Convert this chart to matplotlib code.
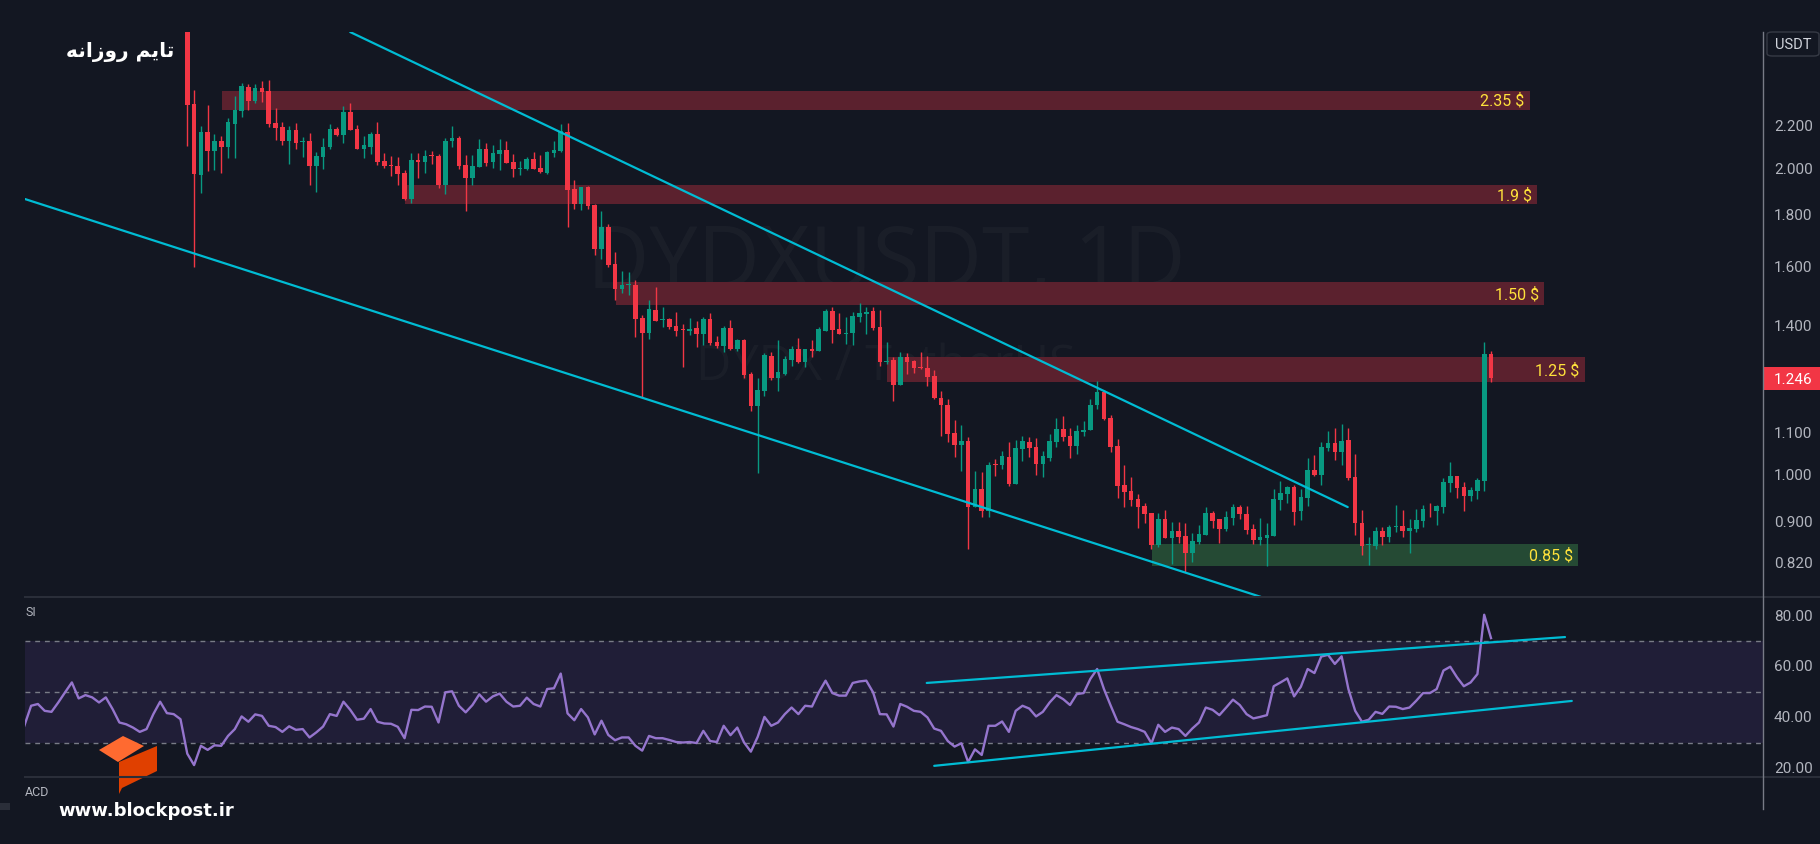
import numpy as np
import matplotlib.pyplot as plt
from matplotlib.lines import Line2D
from matplotlib.patches import Polygon, Rectangle, FancyBboxPatch

# ---- DYDXUSDT daily candles (bar 0 = first visible candle) ----
opens = [2.80, 2.315, 1.973, 2.173, 2.083, 2.129, 2.102, 2.214, 2.280, 2.406,
         2.332, 2.401, 2.384, 2.218, 2.198, 2.130, 2.183, 2.125, 2.129, 2.013,
         2.055, 2.102, 2.188, 2.160, 2.273, 2.188, 2.093, 2.102, 2.163, 2.035,
         2.018, 2.012, 1.980, 1.867, 2.040, 2.032, 2.063, 2.058, 1.929, 2.129,
         2.144, 2.016, 1.958, 2.007, 2.091, 2.030, 2.068, 2.087, 2.030, 2.000,
         1.998, 2.044, 2.003, 1.980, 2.073, 2.082, 2.173, 1.910, 1.845, 1.919,
         1.841, 1.668, 1.753, 1.612, 1.523, 1.536, 1.537, 1.427, 1.379, 1.453,
         1.421, 1.423, 1.401, 1.391, 1.385, 1.395, 1.376, 1.423, 1.351, 1.339,
         1.395, 1.330, 1.357, 1.257, 1.169, 1.209, 1.309, 1.246, 1.257, 1.297,
         1.330, 1.291, 1.330, 1.324, 1.385, 1.449, 1.391, 1.377, 1.379, 1.430,
         1.440, 1.449, 1.398, 1.292, 1.297, 1.226, 1.306, 1.294, 1.275, 1.274,
         1.251, 1.190, 1.172, 1.100, 1.070, 1.080, 0.930, 0.969, 0.922, 1.025,
         1.023, 1.042, 0.980, 1.061, 1.078, 1.066, 1.025, 1.039, 1.078, 1.110,
         1.092, 1.068, 1.102, 1.107, 1.172, 1.206, 1.138, 1.068, 0.978, 0.964,
         0.947, 0.932, 0.918, 0.853, 0.905, 0.867, 0.881, 0.871, 0.838, 0.859,
         0.873, 0.918, 0.905, 0.885, 0.907, 0.930, 0.916, 0.885, 0.863, 0.867,
         0.871, 0.945, 0.958, 0.973, 0.922, 0.949, 1.011, 1.000, 1.063, 1.075,
         1.054, 1.082, 0.996, 0.898, 0.853, 0.852, 0.881, 0.869, 0.890, 0.891,
         0.881, 0.885, 0.901, 0.926, 0.922, 0.930, 0.982, 0.998, 0.973, 0.953,
         0.964, 0.987, 1.315]
highs = [2.95, 2.390, 2.203, 2.310, 2.162, 2.153, 2.243, 2.357, 2.428, 2.421,
         2.423, 2.440, 2.445, 2.294, 2.223, 2.203, 2.218, 2.148, 2.168, 2.077,
         2.144, 2.213, 2.199, 2.305, 2.320, 2.208, 2.153, 2.173, 2.223, 2.073,
         2.058, 2.054, 1.994, 2.073, 2.073, 2.087, 2.082, 2.068, 2.144, 2.203,
         2.153, 2.063, 2.063, 2.139, 2.120, 2.110, 2.139, 2.129, 2.068, 2.035,
         2.054, 2.077, 2.063, 2.082, 2.129, 2.213, 2.218, 1.950, 1.919, 1.925,
         1.845, 1.817, 1.765, 1.657, 1.587, 1.583, 1.555, 1.436, 1.486, 1.530,
         1.463, 1.426, 1.446, 1.408, 1.427, 1.417, 1.430, 1.443, 1.370, 1.401,
         1.420, 1.360, 1.360, 1.263, 1.246, 1.318, 1.321, 1.357, 1.309, 1.339,
         1.363, 1.330, 1.357, 1.398, 1.456, 1.463, 1.443, 1.430, 1.446, 1.476,
         1.463, 1.463, 1.453, 1.351, 1.306, 1.321, 1.318, 1.297, 1.321, 1.309,
         1.268, 1.209, 1.188, 1.132, 1.120, 1.090, 1.009, 1.007, 1.030, 1.037,
         1.056, 1.078, 1.082, 1.092, 1.090, 1.087, 1.056, 1.097, 1.138, 1.143,
         1.112, 1.120, 1.130, 1.188, 1.237, 1.212, 1.145, 1.085, 1.023, 0.996,
         0.958, 0.939, 0.918, 0.918, 0.924, 0.899, 0.899, 0.897, 0.877, 0.893,
         0.930, 0.922, 0.905, 0.922, 0.936, 0.934, 0.932, 0.895, 0.907, 0.897,
         0.969, 0.987, 0.975, 0.978, 0.969, 1.039, 1.046, 1.078, 1.105, 1.112,
         1.122, 1.112, 1.049, 0.924, 0.869, 0.889, 0.889, 0.893, 0.934, 0.924,
         0.905, 0.926, 0.934, 0.939, 0.934, 0.993, 1.030, 0.998, 0.984, 0.973,
         0.993, 1.351, 1.324]
lows = [2.107, 1.602, 1.894, 1.991, 1.995, 1.982, 2.050, 2.050, 2.250, 2.285,
        2.321, 2.327, 2.199, 2.135, 2.111, 2.022, 2.093, 2.055, 1.929, 1.898,
        2.000, 2.093, 2.155, 2.121, 2.184, 2.093, 2.050, 2.065, 2.018, 2.004,
        1.968, 1.929, 1.864, 1.851, 1.960, 1.982, 2.022, 1.916, 1.890, 2.101,
        1.998, 1.817, 1.928, 2.007, 2.012, 2.003, 1.994, 2.026, 1.963, 1.972,
        1.994, 1.998, 1.980, 1.976, 2.054, 2.077, 1.753, 1.825, 1.821, 1.825,
        1.645, 1.630, 1.601, 1.486, 1.510, 1.503, 1.366, 1.193, 1.360, 1.417,
        1.398, 1.391, 1.370, 1.277, 1.373, 1.336, 1.342, 1.342, 1.333, 1.321,
        1.327, 1.324, 1.246, 1.156, 1.005, 1.196, 1.240, 1.209, 1.254, 1.280,
        1.288, 1.277, 1.306, 1.324, 1.385, 1.348, 1.376, 1.345, 1.342, 1.414,
        1.376, 1.388, 1.280, 1.285, 1.182, 1.226, 1.257, 1.260, 1.271, 1.223,
        1.188, 1.092, 1.078, 1.042, 1.009, 0.845, 0.930, 0.909, 0.909, 0.998,
        1.014, 0.975, 0.980, 1.032, 1.042, 1.000, 0.996, 1.032, 1.066, 1.080,
        1.039, 1.049, 1.092, 1.107, 1.161, 1.132, 1.054, 0.949, 0.930, 0.932,
        0.887, 0.897, 0.846, 0.850, 0.867, 0.818, 0.857, 0.803, 0.821, 0.855,
        0.873, 0.887, 0.857, 0.881, 0.893, 0.905, 0.875, 0.855, 0.853, 0.814,
        0.871, 0.924, 0.939, 0.893, 0.903, 0.932, 0.998, 0.978, 1.056, 1.035,
        1.023, 0.989, 0.873, 0.835, 0.816, 0.846, 0.853, 0.859, 0.879, 0.869,
        0.838, 0.879, 0.889, 0.909, 0.893, 0.918, 0.962, 0.949, 0.922, 0.943,
        0.947, 0.964, 1.234]
closes = [2.311, 1.976, 2.173, 2.083, 2.129, 2.102, 2.223, 2.284, 2.412, 2.332,
          2.401, 2.380, 2.214, 2.194, 2.130, 2.183, 2.121, 2.129, 2.013, 2.058,
          2.101, 2.188, 2.160, 2.273, 2.184, 2.093, 2.108, 2.163, 2.032, 2.013,
          2.013, 1.977, 1.867, 2.040, 2.032, 2.058, 2.060, 1.929, 2.129, 2.144,
          2.012, 1.958, 2.012, 2.091, 2.026, 2.073, 2.087, 2.026, 1.998, 2.003,
          2.044, 1.998, 1.985, 2.077, 2.087, 2.178, 1.906, 1.845, 1.919, 1.837,
          1.668, 1.753, 1.608, 1.523, 1.537, 1.539, 1.423, 1.379, 1.456, 1.417,
          1.423, 1.398, 1.385, 1.389, 1.391, 1.376, 1.423, 1.348, 1.339, 1.395,
          1.330, 1.357, 1.254, 1.169, 1.212, 1.312, 1.246, 1.263, 1.300, 1.330,
          1.291, 1.330, 1.324, 1.391, 1.449, 1.388, 1.376, 1.380, 1.433, 1.443,
          1.446, 1.395, 1.291, 1.294, 1.226, 1.306, 1.291, 1.274, 1.273, 1.248,
          1.190, 1.172, 1.097, 1.070, 1.080, 0.930, 0.969, 0.922, 1.023, 1.024,
          1.044, 0.980, 1.063, 1.080, 1.063, 1.025, 1.044, 1.080, 1.110, 1.090,
          1.068, 1.105, 1.107, 1.172, 1.206, 1.135, 1.066, 0.975, 0.962, 0.945,
          0.930, 0.916, 0.853, 0.905, 0.867, 0.881, 0.869, 0.838, 0.861, 0.875,
          0.918, 0.901, 0.885, 0.909, 0.930, 0.916, 0.883, 0.863, 0.869, 0.873,
          0.947, 0.960, 0.973, 0.920, 0.951, 1.011, 1.000, 1.066, 1.075, 1.054,
          1.080, 0.993, 0.897, 0.852, 0.854, 0.881, 0.869, 0.889, 0.891, 0.881,
          0.887, 0.903, 0.926, 0.925, 0.932, 0.984, 0.998, 0.971, 0.953, 0.967,
          0.989, 1.315, 1.246]

# RSI(14), first value sits at bar -24
rsi_first_bar = -24
rsi_values = [36.6, 44.5, 45.2, 42.5, 42.1, 45.8, 49.8, 53.7, 47.4, 48.7,
              47.8, 45.8, 47.8, 43.2, 37.9, 37.2, 35.9, 34.2, 35.3, 41.2,
              46.1, 41.6, 41.2, 39.2, 25.6, 21.1, 28.7, 27.1, 28.9, 28.7,
              32.6, 35.3, 40.3, 38.2, 41.1, 40.5, 36.6, 36.1, 34.2, 36.4,
              35.0, 35.3, 32.0, 34.0, 36.3, 41.2, 40.5, 46.1, 42.9, 39.0,
              39.4, 43.2, 38.2, 37.5, 37.4, 36.2, 31.7, 42.9, 42.8, 44.2,
              44.1, 37.9, 49.8, 50.2, 44.5, 41.9, 44.8, 49.0, 46.1, 48.2,
              49.3, 46.1, 44.2, 44.5, 47.7, 45.2, 44.2, 51.1, 51.4, 57.2,
              41.5, 38.8, 43.2, 39.9, 33.2, 38.6, 33.0, 30.9, 32.0, 32.0,
              28.7, 26.8, 32.6, 31.7, 31.7, 31.0, 30.2, 30.0, 30.2, 29.8,
              34.6, 30.6, 30.2, 36.6, 32.9, 35.9, 30.0, 26.4, 32.2, 40.1,
              36.6, 37.9, 41.2, 43.8, 41.2, 44.5, 44.2, 49.8, 54.4, 49.5,
              48.5, 48.5, 53.5, 54.1, 54.4, 49.8, 41.2, 41.1, 36.3, 45.2,
              44.1, 42.5, 42.1, 39.9, 35.5, 34.6, 30.6, 28.4, 29.7, 22.3,
              27.3, 25.1, 36.6, 36.6, 38.3, 34.2, 42.5, 44.5, 43.4, 40.3,
              42.1, 45.8, 48.7, 47.1, 44.8, 49.1, 49.5, 55.1, 59.0, 51.1,
              44.5, 38.2, 37.2, 36.1, 35.3, 34.2, 29.7, 37.0, 34.2, 35.9,
              35.3, 32.6, 35.5, 37.9, 43.8, 42.9, 40.8, 43.8, 46.9, 44.8,
              41.2, 39.5, 40.1, 40.8, 52.2, 53.7, 55.3, 48.2, 52.0, 59.0,
              57.4, 63.9, 64.6, 61.0, 64.0, 51.1, 42.5, 38.2, 39.0, 42.1,
              41.3, 44.2, 44.1, 43.2, 43.8, 46.5, 49.5, 49.5, 51.1, 58.4,
              59.9, 55.7, 52.2, 53.7, 57.0, 80.4, 71.2]

# support / resistance zones
zone_labels = ['2.35 $', '1.9 $', '1.50 $', '1.25 $', '0.85 $']
zone_low = [2.285, 1.845, 1.469, 1.234, 0.814]
zone_high = [2.386, 1.928, 1.548, 1.306, 0.855]
zone_start = [5.1, 32.1, 63.1, 103.0, 142.1]
zone_end = [197.7, 198.8, 199.8, 205.8, 204.8]

# drawn trend lines: (bar, value) end points
channel_top = ([24.0, 170.9], [2.724, 0.930])
channel_bottom = ([-23.9, 158.1], [1.867, 0.759])
rsi_line_top = ([108.9, 202.9], [53.5, 71.6])
rsi_line_bottom = ([110.0, 203.9], [20.8, 46.4])

price_ticks = [2.2, 2.0, 1.8, 1.6, 1.4, 1.1, 1.0, 0.9, 0.82]
rsi_ticks = [80, 60, 40, 20]
last_price = 1.246

# ---- style ----
W, H, DPI = 1820, 845, 100
BG = '#131722'
UP = '#089981'
DOWN = '#F23645'
CYAN = '#00BCD4'
AXIS_TXT = '#B2B5BE'
GRID = '#2A2E39'
ZONE_RED = '#5B212E'
ZONE_GREEN = '#254A34'
LABEL_YELLOW = '#FFE23B'

fig = plt.figure(figsize=(W / DPI, H / DPI), dpi=DPI, facecolor=BG)


def fx(x):
    return x / W


def fy(y):
    return 1 - y / H


def pane(top, bottom):
    a = fig.add_axes([fx(25), fy(bottom), fx(1763) - fx(25), fy(top) - fy(bottom)])
    a.set_facecolor(BG)
    for s in a.spines.values():
        s.set_visible(False)
    return a


x_lim = (-23.9, 232.06)
label_x = (1774 - 25) / (1763 - 25)

# ---- price pane ----
ax = pane(33, 598)
ax.set_yscale('log')
ax.set_ylim(0.7588, 2.7244)
ax.set_xlim(*x_lim)
ax.tick_params(which='both', left=False, bottom=False, right=False,
               labelleft=False, labelbottom=False)

ax.text(fx(886), fy(266), 'DYDXUSDT, 1D', transform=fig.transFigure, ha='center',
        va='center', fontsize=62, family='Open Sans', color=(1, 1, 1, 0.03), zorder=0.5)
ax.text(fx(886), fy(367), 'DYDX / TetherUS', transform=fig.transFigure, ha='center',
        va='center', fontsize=35, family='Open Sans', color=(1, 1, 1, 0.03), zorder=0.5)

for lab, lo, hi, s, e in zip(zone_labels, zone_low, zone_high, zone_start, zone_end):
    col = ZONE_GREEN if lab.startswith('0.85') else ZONE_RED
    ax.fill_between([s, e], [lo, lo], [hi, hi], color=col, lw=0, zorder=1)
    ax.annotate(lab, xy=(e, np.sqrt(lo * hi)), xytext=(-5, 0), textcoords='offset pixels',
                ha='right', va='center', color=LABEL_YELLOW, fontsize=11.5,
                family='Roboto', zorder=6)

o = np.array(opens)
h = np.array(highs)
l = np.array(lows)
c = np.array(closes)
bars = np.arange(len(o))
cols = np.where(c >= o, UP, DOWN)
ax.vlines(bars, l, h, colors=cols, lw=1.0, zorder=3)
bottom = np.minimum(o, c)
height = np.maximum(np.abs(c - o), bottom * 0.002)
ax.bar(bars, height, bottom=bottom, width=0.68, color=cols, lw=0, zorder=4)

for xs, ys in (channel_top, channel_bottom):
    ax.plot(xs, ys, color=CYAN, lw=1.6, zorder=5, solid_capstyle='round')

ytr = ax.get_yaxis_transform()
for t in price_ticks:
    ax.text(label_x, t, f'{t:.3f}', transform=ytr, ha='left', va='center',
            fontsize=11, family='Roboto', color=AXIS_TXT, clip_on=False)

# ---- RSI pane ----
ar = pane(598, 778)
ar.set_xlim(*x_lim)
ar.set_ylim(16.4, 87.4)
ar.tick_params(which='both', left=False, bottom=False, labelleft=False, labelbottom=False)
ar.axhspan(30, 70, color='#201E37', lw=0, zorder=0)
for v in (70, 50, 30):
    ar.axhline(v, color='#787B86', lw=1, ls=(0, (3.5, 3.5)), zorder=1)
rsi_x = np.arange(rsi_first_bar, rsi_first_bar + len(rsi_values))
ar.plot(rsi_x, rsi_values, color='#9575CD', lw=1.7, zorder=3)
for xs, ys in (rsi_line_top, rsi_line_bottom):
    ar.plot(xs, ys, color=CYAN, lw=1.6, zorder=4, solid_capstyle='round')
rtr = ar.get_yaxis_transform()
for t in rsi_ticks:
    ar.text(label_x, t, f'{t:.2f}', transform=rtr, ha='left', va='center',
            fontsize=11, family='Roboto', color=AXIS_TXT, clip_on=False)

# ---- frame lines, axis badges ----
for yy in (598, 778):
    fig.add_artist(Line2D([fx(25), 1], [fy(yy), fy(yy)], color=GRID, lw=1.5))
fig.add_artist(Line2D([fx(1763), fx(1763)], [fy(33), fy(810)], color='#787B86', lw=1))

fig.add_artist(FancyBboxPatch((fx(1767), fy(57)), fx(1819) - fx(1767), fy(33) - fy(57),
                              boxstyle='round,pad=0,rounding_size=0.003',
                              transform=fig.transFigure, fc=BG, ec='#363A45', lw=1))
fig.text(fx(1793), fy(45), 'USDT', ha='center', va='center', fontsize=10.5,
         family='Roboto', color='#D1D4DC')

fig.add_artist(Rectangle((fx(1763), fy(391)), fx(1820) - fx(1763), fy(368) - fy(391),
                         transform=fig.transFigure, fc=DOWN, lw=0))
fig.text(fx(1774), fy(380), f'{last_price:.3f}', ha='left', va='center', fontsize=11,
         family='Roboto', color='white')

fig.text(fx(25), fy(613), 'SI', ha='left', va='center', fontsize=9,
         family='Roboto', color=AXIS_TXT)
fig.text(fx(25), fy(793), 'ACD', ha='left', va='center', fontsize=9,
         family='Roboto', color=AXIS_TXT)
fig.add_artist(Rectangle((0, fy(811)), fx(10), fy(804) - fy(811),
                         transform=fig.transFigure, fc=GRID, lw=0))

# title (Persian, shaped glyphs in display order)
fig.text(fx(120), fy(52), '\ufeea\ufee7\ufe8d\ufeaf\ufeed\ufead \ufee2\ufbfe\ufe8e\ufe97',
         ha='center', va='center', fontsize=14.5, fontweight='bold',
         family='DejaVu Sans', color='white')

# watermark logo + site
top_face = [(99, 751), (123, 737), (144, 747), (118, 763)]
side_face = [(119, 763), (157, 747), (157, 772), (122, 789), (119, 795)]
fig.add_artist(Polygon([(fx(x), fy(y)) for x, y in top_face], closed=True,
                       transform=fig.transFigure, fc='#FF6A30', lw=0))
fig.add_artist(Polygon([(fx(x), fy(y)) for x, y in side_face], closed=True,
                       transform=fig.transFigure, fc='#E04000', lw=0))
fig.text(fx(146), fy(811), 'www.blockpost.ir', ha='center', va='center', fontsize=13,
         fontweight='bold', family='DejaVu Sans', color='white')

fig.savefig('out.png', dpi=DPI, facecolor=BG)
